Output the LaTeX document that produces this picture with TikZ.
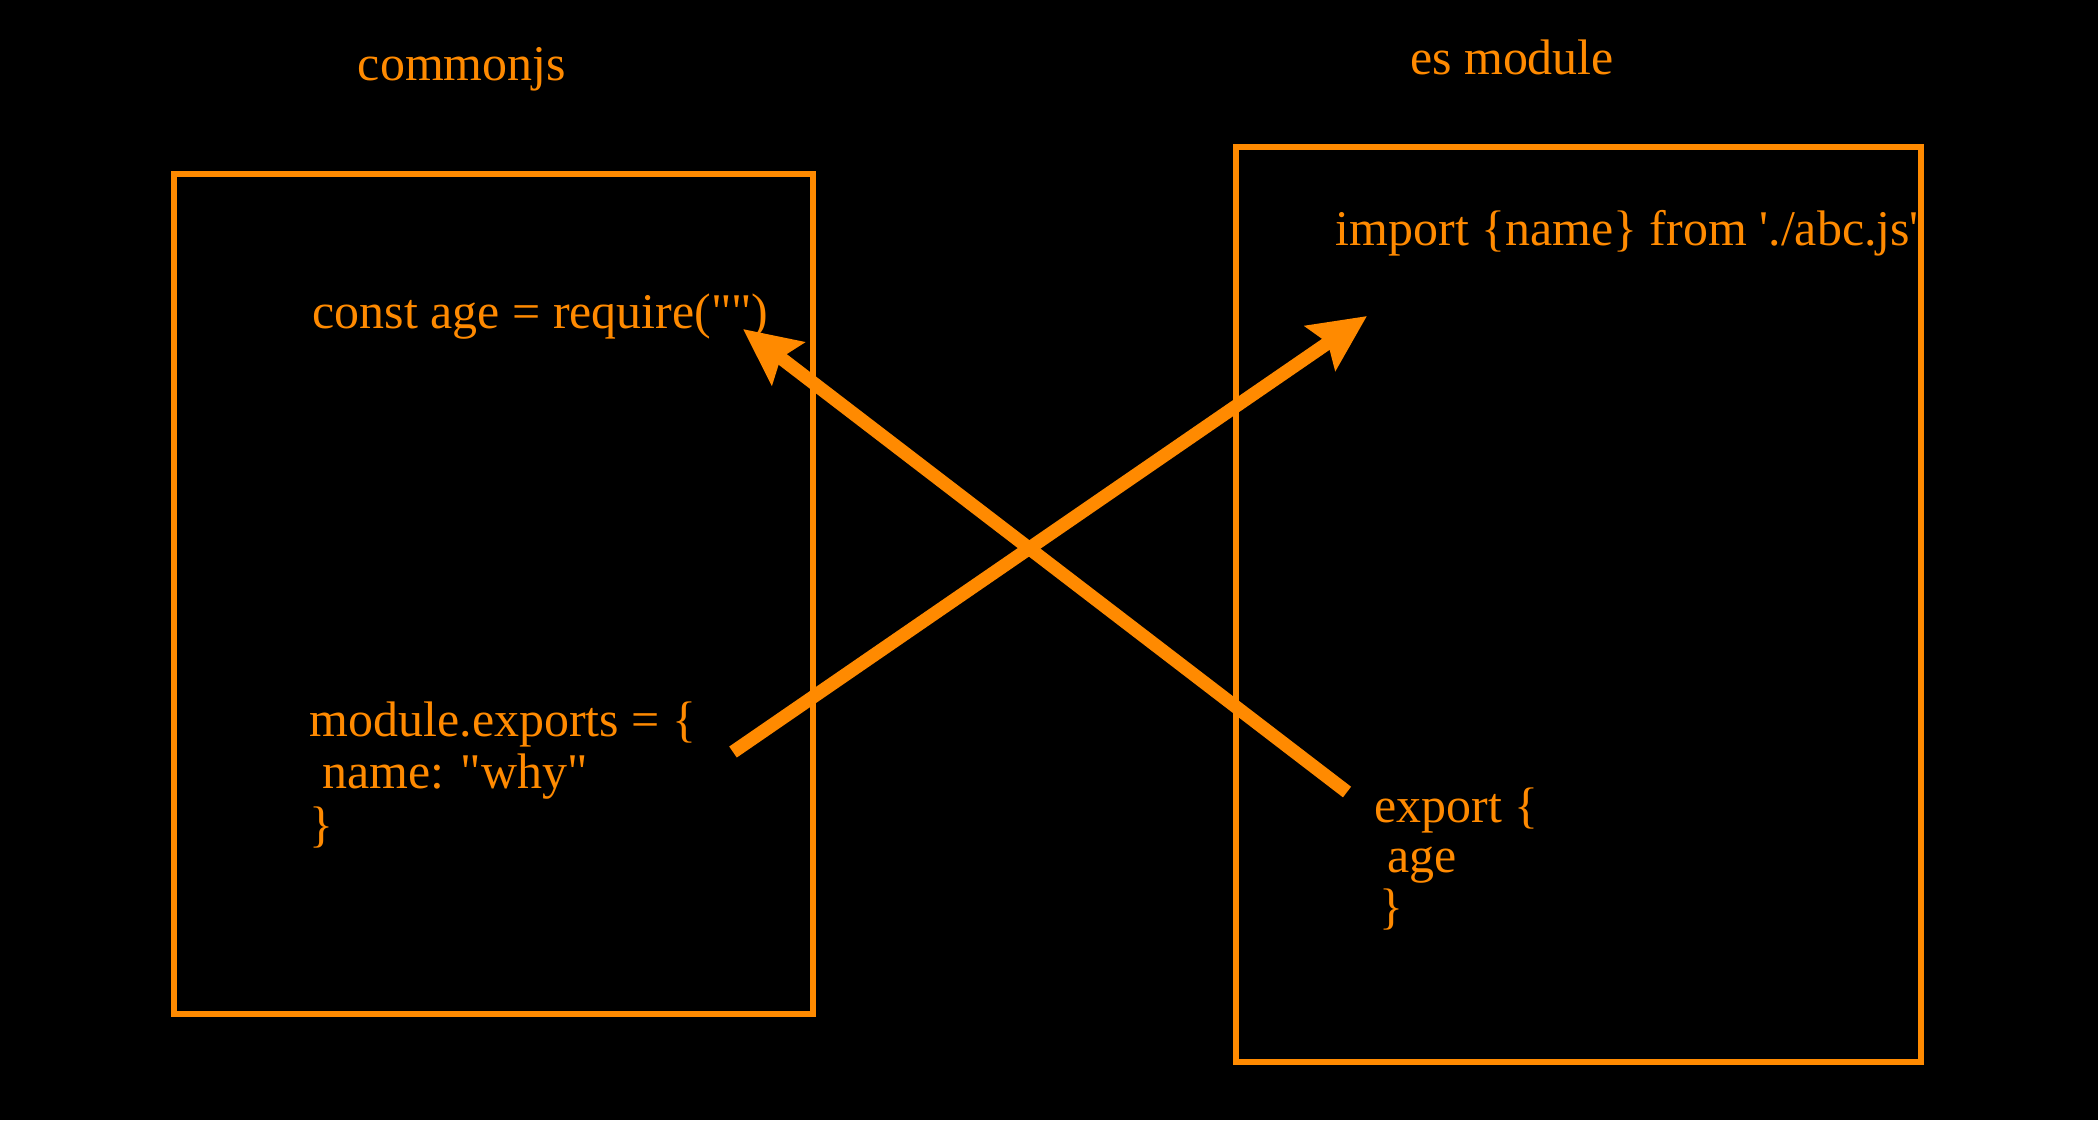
\documentclass[tikz,border=0pt]{standalone}
\usepackage{fontspec}
\setmainfont{Liberation Serif}[Ligatures=TeXOff]
\usetikzlibrary{arrows.meta, positioning}

\definecolor{jsorange}{HTML}{FF8A00}

\begin{document}
\begin{tikzpicture}[x=0.01cm, y=-0.01cm, >=Stealth, font=\fontsize{14.2}{14.6}\selectfont]
    \tikzstyle{title} = [text=jsorange, inner sep=0pt, anchor=base]
    \tikzstyle{code} = [text=jsorange, inner sep=0pt, anchor=base west, align=left]
    \tikzstyle{modbox} = [draw=jsorange, line width=1.6pt]
    \tikzstyle{link} = [draw=jsorange, line width=3.8pt, -{Stealth[length=16pt, width=15pt, inset=2.5pt]}]

    % Background
    \fill[black] (0,0) rectangle (2098,1120);
    \useasboundingbox (0,0) rectangle (2098,1120);

    % Left side (commonjs)
    \node [title] (cjs_title) at (462,80) {commonjs};
    \draw [modbox] (174,174) rectangle (813,1014);
    \node [code] (cjs_require) at (312,328) {const age = require("")};
    \node [code] (cjs_exports) at (309,841) {module.exports = \{\\[0.3pt]
        \hspace{0.25em}name: "why"\\[0.3pt]
        \}};

    % Right side (es module)
    \node [title] (esm_title) at (1512,74) {es module};
    \draw [modbox] (1236,147) rectangle (1921,1062);
    \node [code] (esm_import) at (1335,245) {import \{name\} from './abc.js'};
    \node [code] (esm_export) at (1374,923) {export \{\\[-0.3pt]
        \hspace{0.25em}age\\[-0.3pt]
        \hspace{0.1em}\}};

    % Arrow ends
    \coordinate (from_cjs) at (733,752);
    \coordinate (to_esm) at (1367,316);
    \coordinate (from_esm) at (1347,792);
    \coordinate (to_cjs) at (743,329);

    % Connections
    \draw [link] (from_cjs) -- (to_esm);
    \draw [link] (from_esm) -- (to_cjs);
\end{tikzpicture}
\end{document}
